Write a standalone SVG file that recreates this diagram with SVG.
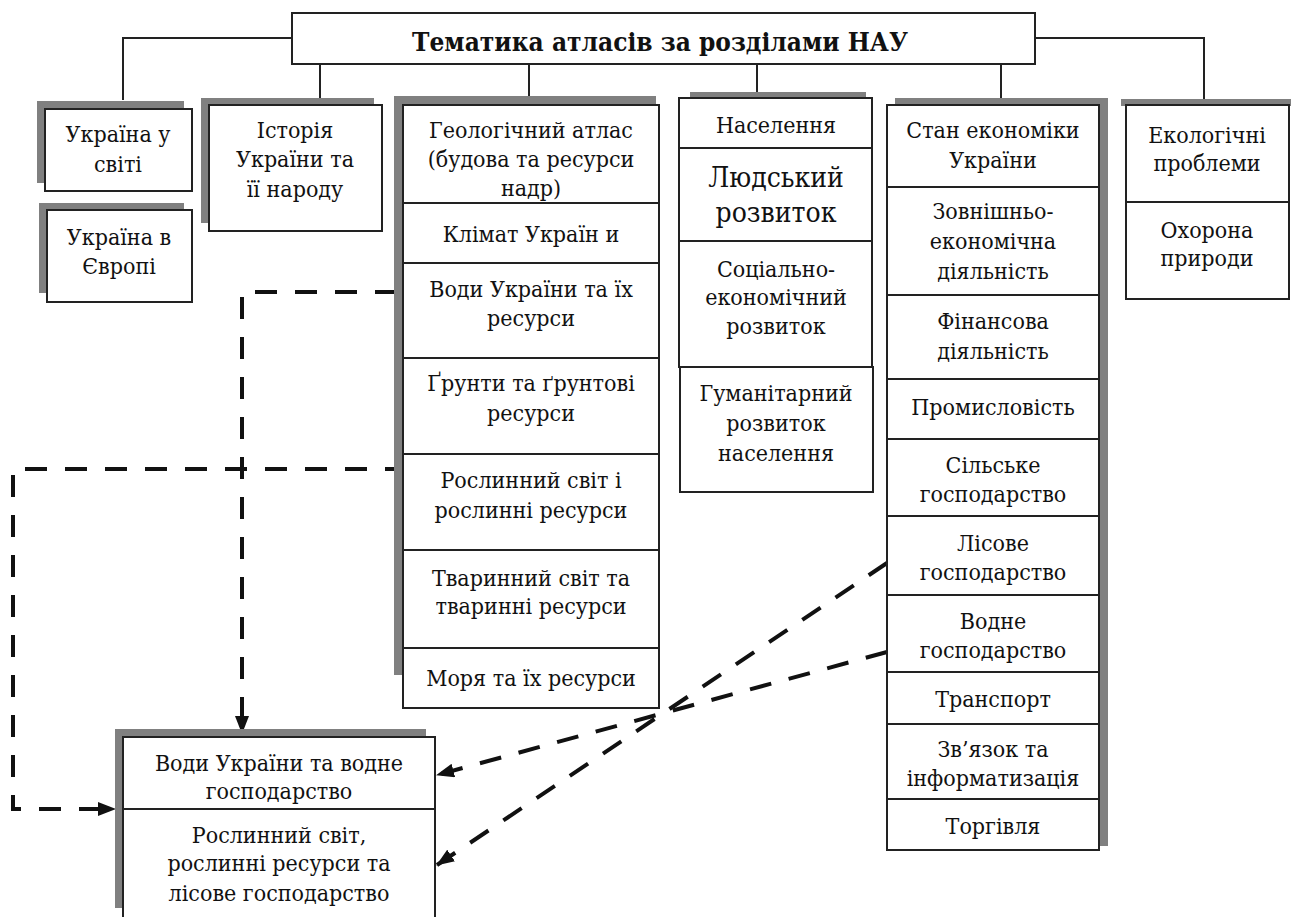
<svg xmlns="http://www.w3.org/2000/svg" width="1291" height="917" viewBox="0 0 1291 917">
<style>
.box{fill:#fff;stroke:#222;stroke-width:2}
.sh{fill:#808080}
.t{font-family:'DejaVu Serif','Liberation Serif',serif;font-stretch:condensed;font-size:23px;text-anchor:middle;fill:#111}
.big{font-size:28px}
.title{font-size:26px;font-weight:bold}
.conn{stroke:#222;stroke-width:2;fill:none}
.dash{stroke:#111;stroke-width:4;stroke-dasharray:22 18;fill:none}
</style>
<defs>
<marker id="ah" markerUnits="userSpaceOnUse" markerWidth="18" markerHeight="14" refX="17" refY="7" orient="auto">
<path d="M0,0 L18,7 L0,14 Z" fill="#111"/>
</marker>
</defs>
<rect width="1291" height="917" fill="#fff"/>

<g id="connectors">
<path class="conn" d="M292,38 H123 V100"/>
<path class="conn" d="M320,64 V98"/>
<path class="conn" d="M529,64 V96"/>
<path class="conn" d="M757,64 V92"/>
<path class="conn" d="M1001,64 V98"/>
<path class="conn" d="M1035,38 H1204 V99"/>
<path class="dash" d="M397,292 H242 V733" marker-end="url(#ah)"/>
<path class="dash" d="M407,469 H13 V809 H115" marker-end="url(#ah)"/>
<path class="dash" d="M887,652 L437,775" marker-end="url(#ah)"/>
<path class="dash" d="M887,563 L437,865" marker-end="url(#ah)"/>
</g>

<g id="title">
<rect class="box" x="292" y="13" width="743" height="51"/>
<text class="t title" x="660" y="51">Тематика атласів за розділами НАУ</text>
</g>

<g id="ukraine-world">
<rect class="sh" x="37" y="101" width="147" height="82"/>
<rect class="box" x="45" y="109" width="147" height="82"/>
<text class="t" x="118" y="142">Україна у</text>
<text class="t" x="118" y="172">світі</text>
</g>

<g id="ukraine-europe">
<rect class="sh" x="39" y="203" width="145" height="90"/>
<rect class="box" x="47" y="210" width="145" height="92"/>
<text class="t" x="119" y="245">Україна в</text>
<text class="t" x="119" y="274">Європі</text>
</g>

<g id="history">
<rect class="sh" x="201" y="98" width="173" height="125"/>
<rect class="box" x="209" y="105" width="173" height="126"/>
<text class="t" x="295" y="138">Історія</text>
<text class="t" x="295" y="167">України та</text>
<text class="t" x="295" y="197">її народу</text>
</g>

<g id="nature">
<rect class="sh" x="394" y="96" width="262" height="10"/>
<rect class="sh" x="394" y="96" width="10" height="579"/>
<rect class="box" x="403" y="105" width="256" height="98"/>
<rect class="box" x="403" y="203" width="256" height="60"/>
<rect class="box" x="403" y="263" width="256" height="95"/>
<rect class="box" x="403" y="358" width="256" height="96"/>
<rect class="box" x="403" y="454" width="256" height="96"/>
<rect class="box" x="403" y="550" width="256" height="98"/>
<rect class="box" x="403" y="648" width="256" height="60"/>
<text class="t" x="531" y="138">Геологічний атлас</text>
<text class="t" x="531" y="167">(будова та ресурси</text>
<text class="t" x="531" y="196">надр)</text>
<text class="t" x="531" y="242">Клімат Україн и</text>
<text class="t" x="531" y="297">Води України та їх</text>
<text class="t" x="531" y="326">ресурси</text>
<text class="t" x="531" y="391">Ґрунти та ґрунтові</text>
<text class="t" x="531" y="421">ресурси</text>
<text class="t" x="531" y="488">Рослинний світ і</text>
<text class="t" x="531" y="518">рослинні ресурси</text>
<text class="t" x="531" y="586">Тваринний світ та</text>
<text class="t" x="531" y="614">тваринні ресурси</text>
<text class="t" x="531" y="686">Моря та їх ресурси</text>
</g>

<g id="population">
<rect class="sh" x="690" y="92" width="176" height="7"/>
<rect class="box" x="679" y="98" width="193" height="50"/>
<rect class="box" x="679" y="148" width="193" height="93"/>
<rect class="box" x="679" y="241" width="193" height="126"/>
<rect class="box" x="680" y="367" width="193" height="125"/>
<text class="t" x="776" y="133">Населення</text>
<text class="t big" x="776" y="187">Людський</text>
<text class="t big" x="776" y="222">розвиток</text>
<text class="t" x="776" y="277">Соціально-</text>
<text class="t" x="776" y="305">економічний</text>
<text class="t" x="776" y="334">розвиток</text>
<text class="t" x="776" y="401">Гуманітарний</text>
<text class="t" x="776" y="431">розвиток</text>
<text class="t" x="776" y="461">населення</text>
</g>

<g id="economy">
<rect class="sh" x="895" y="98" width="213" height="7"/>
<rect class="sh" x="1099" y="98" width="9" height="748"/>
<rect class="box" x="887" y="105" width="212" height="82"/>
<rect class="box" x="887" y="187" width="212" height="108"/>
<rect class="box" x="887" y="295" width="212" height="84"/>
<rect class="box" x="887" y="379" width="212" height="60"/>
<rect class="box" x="887" y="439" width="212" height="77"/>
<rect class="box" x="887" y="516" width="212" height="79"/>
<rect class="box" x="887" y="595" width="212" height="77"/>
<rect class="box" x="887" y="672" width="212" height="52"/>
<rect class="box" x="887" y="724" width="212" height="75"/>
<rect class="box" x="887" y="799" width="212" height="51"/>
<text class="t" x="993" y="138">Стан економіки</text>
<text class="t" x="993" y="168">України</text>
<text class="t" x="993" y="219">Зовнішньо-</text>
<text class="t" x="993" y="249">економічна</text>
<text class="t" x="993" y="279">діяльність</text>
<text class="t" x="993" y="329">Фінансова</text>
<text class="t" x="993" y="359">діяльність</text>
<text class="t" x="993" y="415">Промисловість</text>
<text class="t" x="993" y="473">Сільське</text>
<text class="t" x="993" y="502">господарство</text>
<text class="t" x="993" y="551">Лісове</text>
<text class="t" x="993" y="580">господарство</text>
<text class="t" x="993" y="629">Водне</text>
<text class="t" x="993" y="658">господарство</text>
<text class="t" x="993" y="707">Транспорт</text>
<text class="t" x="993" y="757">Зв’язок та</text>
<text class="t" x="993" y="786">інформатизація</text>
<text class="t" x="993" y="834">Торгівля</text>
</g>

<g id="ecology">
<rect class="sh" x="1121" y="99" width="170" height="7"/>
<rect class="box" x="1126" y="105" width="163" height="97"/>
<rect class="box" x="1126" y="202" width="163" height="97"/>
<text class="t" x="1207" y="143">Екологічні</text>
<text class="t" x="1207" y="171">проблеми</text>
<text class="t" x="1207" y="238">Охорона</text>
<text class="t" x="1207" y="266">природи</text>
</g>

<g id="combined">
<rect class="sh" x="115" y="729" width="311" height="9"/>
<rect class="sh" x="115" y="729" width="9" height="179"/>
<rect class="box" x="123" y="737" width="312" height="72"/>
<rect class="box" x="123" y="809" width="312" height="115"/>
<text class="t" x="279" y="771">Води України та водне</text>
<text class="t" x="279" y="799">господарство</text>
<text class="t" x="279" y="843">Рослинний світ,</text>
<text class="t" x="279" y="871">рослинні ресурси та</text>
<text class="t" x="279" y="901">лісове господарство</text>
</g>
</svg>
